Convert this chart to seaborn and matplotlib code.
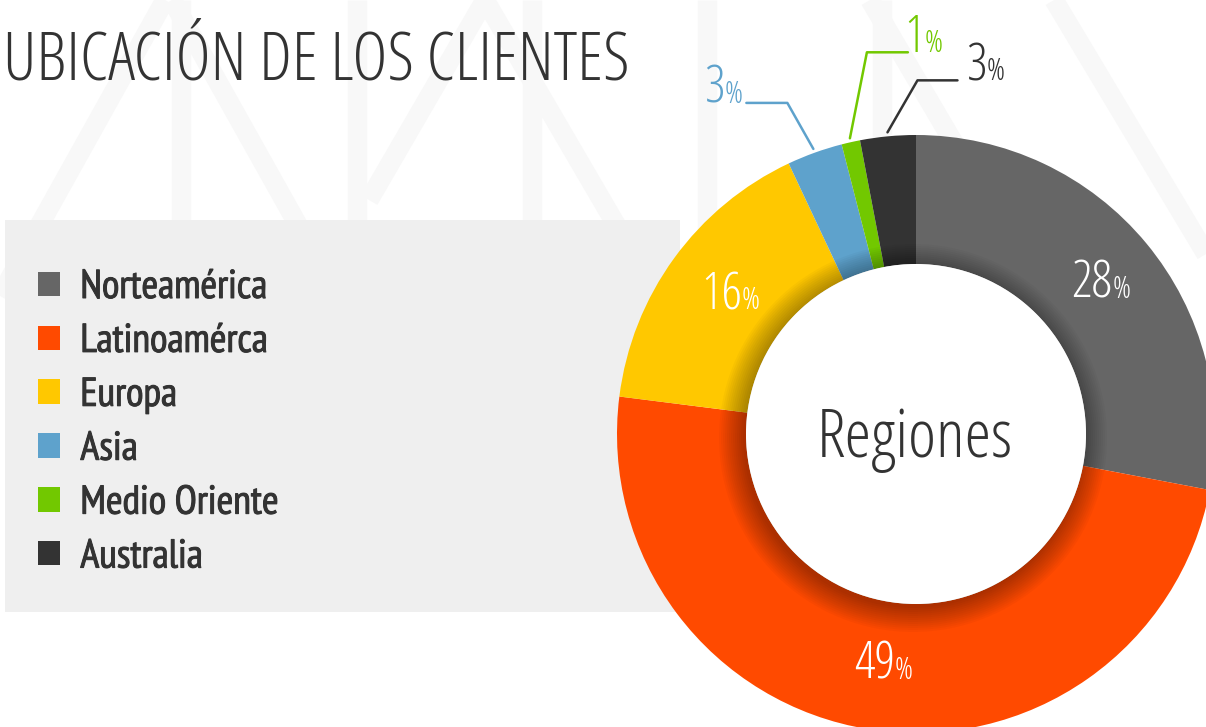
import matplotlib
matplotlib.use("Agg")
import numpy as np
import matplotlib.pyplot as plt
import matplotlib.patheffects as pe
from matplotlib import font_manager as fm
from matplotlib.font_manager import FontProperties
from matplotlib.patches import Rectangle, Circle
import seaborn as sns

# data
regions = ["Norteamérica", "Latinoamérca", "Europa", "Asia", "Medio Oriente", "Australia"]
shares = [28, 49, 16, 3, 1, 3]
colors = ["#666666", "#ff4a00", "#ffc800", "#5ea2cc", "#72c800", "#333333"]
title = "UBICACIÓN DE LOS CLIENTES"
center_label = "Regiones"

sns.set_style("white")
plt.rcParams["font.family"] = ["Liberation Sans Narrow", "DejaVu Sans"]
TXT = "#333333"


def font(stem, size, fallback="Liberation Sans Narrow"):
    # pick a font file by name, fall back to an installed family
    for f in fm.fontManager.ttflist:
        if f.fname.endswith(stem):
            return FontProperties(fname=f.fname, size=size)
    return FontProperties(family=[fallback, "DejaVu Sans"], size=size)


LIGHT = "OpenSans-CondLight.ttf"
NARROW = "PT_Sans-Narrow-Web-Regular.ttf"

W, H = 1206, 727
fig = plt.figure(figsize=(W / 100, H / 100), dpi=100)
ax = fig.add_axes([0, 0, 1, 1])

# faint chevron pattern behind everything (image px, y down)
pattern = [
    [(0, 296), (165, 0)], [(181, 0), (181, 230)], [(172, 0), (340, 300)],
    [(357, 0), (357, 230)], [(369, 200), (485, 0)], [(485, 0), (660, 300)],
    [(532, 0), (532, 230)], [(707, 0), (707, 230)], [(870, 0), (1046, 300)],
    [(882, 0), (882, 230)], [(1054, 0), (1206, 254)],
]
for seg in pattern:
    xs = [p[0] for p in seg]
    ys = [H - p[1] for p in seg]
    ax.plot(xs, ys, color="#f8f8f8", lw=14, solid_capstyle="butt", zorder=0)

# legend panel
ax.add_patch(Rectangle((5, H - 612), 675, 392, color="#efefef", lw=0, zorder=0.5))

cx, cy = 916, H - 434
r_out, r_in = 299, 170
wedges, _ = ax.pie(shares, colors=sns.color_palette(colors), startangle=90,
                   counterclock=False, center=(cx, cy), radius=r_out,
                   wedgeprops=dict(width=r_out - r_in, linewidth=0), frame=True)
for w in wedges:
    w.set_zorder(1)

ax.set_xlim(0, W)
ax.set_ylim(0, H)
ax.set_aspect("equal")
ax.axis("off")

# soft shadow cast by the inner disc
clip = Circle((cx, cy), r_out, transform=ax.transData)
for d in range(0, 26, 2):
    c = Circle((cx - 3, cy - 4), r_in + d, color="black", alpha=0.028, lw=0, zorder=2)
    ax.add_patch(c)
    c.set_clip_path(clip)
ax.add_patch(Circle((cx, cy), r_in, color="white", lw=0, zorder=3))
ax.text(cx - 1, H - 457, center_label, ha="center", va="baseline",
        fontproperties=font(LIGHT, 48.5), color=TXT, zorder=4)

ax.text(3, H - 80, title, ha="left", va="baseline", fontproperties=font(LIGHT, 48.5), color=TXT)

renderer = fig.canvas.get_renderer()


def pct_label(x, y_base, value, color, align):
    num = ax.text(0, y_base, str(value), fontproperties=font(LIGHT, 37), color=color,
                  va="baseline", ha="left", zorder=5)
    sign = ax.text(0, y_base, "%", fontproperties=font(LIGHT, 22), color=color,
                   va="baseline", ha="left", zorder=5)
    wn = num.get_window_extent(renderer).width
    ws = sign.get_window_extent(renderer).width
    total = wn + ws
    x0 = {"center": x - total / 2, "right": x - total, "left": x}[align]
    num.set_x(x0)
    sign.set_x(x0 + wn)


# value labels: inside the ring for big slices, leader lines for small ones
leader_offsets = {3: [(-67, 46), (-26, 46)], 4: [(58, 86), (17, 86)], 5: [(70, 52), (30, 52)]}
label_align = {3: "right", 4: "left", 5: "left"}
label_gap = {3: 4, 4: -4, 5: 9}
for i, (w, v, col) in enumerate(zip(wedges, shares, colors)):
    ang = np.deg2rad((w.theta1 + w.theta2) / 2)
    if v >= 10:
        r = (r_in + r_out) / 2
        x, y = cx + r * np.cos(ang), cy + r * np.sin(ang)
        pct_label(x + 4, y - 13, v, "white", "center")
    else:
        r = r_out + 4
        x, y = cx + r * np.cos(ang), cy + r * np.sin(ang)
        (ex, ey), (kx, ky) = [(x + dx, y + dy) for dx, dy in leader_offsets[i]]
        ax.plot([ex, kx, x], [ey, ky, y], color=col, lw=1.8, zorder=5)
        lx = ex - label_gap[i] if label_align[i] == "right" else ex + label_gap[i]
        pct_label(lx, ey, v, col, label_align[i])

leg = ax.legend(wedges, regions, loc="upper left", bbox_to_anchor=(38, H - 269),
                bbox_transform=ax.transData, frameon=False, borderpad=0, borderaxespad=0,
                handlelength=0.55, handleheight=0.55, handletextpad=0.5, labelspacing=0.42,
                prop=font(NARROW, 29))
for t in leg.get_texts():
    t.set_color(TXT)
    t.set_path_effects([pe.withStroke(linewidth=0.7, foreground=TXT)])

fig.savefig("out.png", dpi=100)
